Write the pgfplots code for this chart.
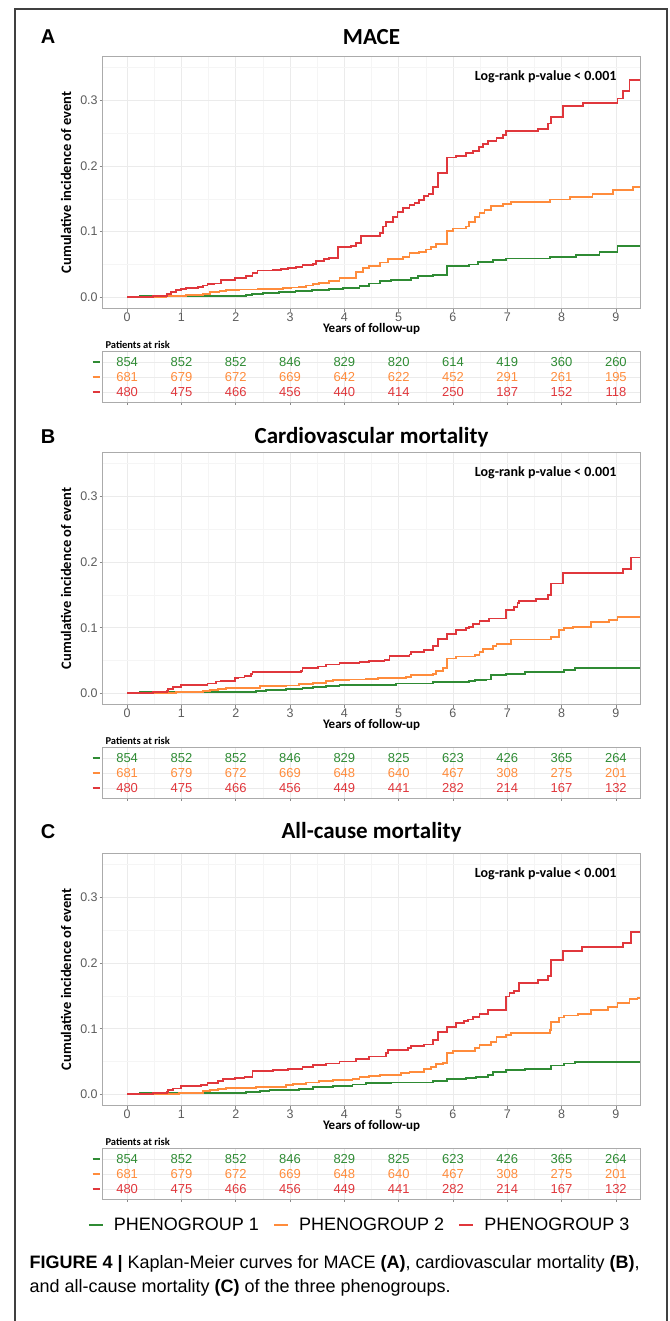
\documentclass[border=0pt]{standalone}
\usepackage{fontspec}
\setmainfont{Liberation Sans}
\newfontfamily\calb{Carlito}
\usepackage{pgfplots}
\pgfplotsset{compat=1.18}

\definecolor{pgA}{HTML}{2F8B34}
\definecolor{pgB}{HTML}{FF8C3C}
\definecolor{pgC}{HTML}{E0373C}
\definecolor{gridmaj}{HTML}{EBEBEB}
\definecolor{gridmin}{HTML}{F5F5F5}
\definecolor{panelgray}{HTML}{ABABAB}
\definecolor{ticklab}{HTML}{5C5C5C}

\newcommand{\dash}[1]{\textcolor{#1}{\rule{7pt}{2.6pt}}}

\pgfplotsset{
  base/.style={
    scale only axis, width=537.6pt,
    xmin=-0.45, xmax=9.45,
    xtick={0,...,9}, minor xtick={0.5,1.5,...,8.5},
    grid=both,
    major grid style={draw=gridmaj, line width=0.7pt},
    minor grid style={draw=gridmin, line width=0.5pt},
    axis line style={draw=panelgray, line width=0.9pt},
    tick align=outside, tick pos=left,
    major tick length=3pt, minor tick length=0pt,
    tick style={draw=panelgray!80!black, line width=0.6pt},
    /pgf/number format/assume math mode=true,
    ticklabel style={font=\fontsize{12.5}{13}\selectfont, text=ticklab},
  },
  km/.style={base, height=252.6pt,
    ymin=-0.0175, ymax=0.3675,
    ytick={0,0.1,0.2,0.3}, minor ytick={0.05,0.15,0.25,0.35},
    yticklabel style={/pgf/number format/fixed, /pgf/number format/fixed zerofill, /pgf/number format/precision=1, xshift=1.5pt},
    xticklabel style={yshift=2.5pt},
    xlabel={Years of follow-up},
    ylabel={Cumulative incidence of event},
    every axis x label/.style={at={(axis description cs:0.5,0)}, yshift=-20pt, anchor=center, font=\calb\bfseries\fontsize{13}{14}\selectfont},
    every axis y label/.style={at={(axis description cs:0,0.5)}, xshift=-36.7pt, rotate=90, anchor=center, font=\calb\bfseries\fontsize{14.5}{15}\selectfont},
    every axis plot/.append style={const plot, line width=1.8pt, mark=none},
  },
  risk/.style={base, height=51pt,
    ymin=0.33, ymax=3.73, ytick={1,2,3},
    xticklabels={},
    yticklabels={\dash{pgC},\dash{pgB},\dash{pgA}},
    ytick style={draw=none},
    yticklabel style={inner sep=0pt},
  },
  riskrow/.style={draw=none, mark=none, nodes near coords, point meta=explicit symbolic,
    nodes near coords style={anchor=center, font=\fontsize{13}{13}\selectfont, text=#1}},
}

\begin{document}
\begin{tikzpicture}
\useasboundingbox (0,0) rectangle (669pt,1321pt);
\draw[line width=1.3pt, color=black!75] (15pt,-2pt) -- (15pt,1312pt) -- (667pt,1312pt) -- (667pt,-2pt);

% ---------------- A: MACE ----------------
\node[font=\bfseries\fontsize{20}{20}\selectfont] at (48pt,1284pt) {A};
\node[font=\calb\bfseries\fontsize{23}{23}\selectfont] at (371.5pt,1284pt) {MACE};
\begin{axis}[km, at={(102.7pt,1012.2pt)}, anchor=south west]
\addplot[pgA] coordinates {(0,0) (0.23,0.002) (2.19,0.003) (2.30,0.0046) (2.50,0.006) (2.80,0.0076) (3.10,0.009) (3.40,0.011) (3.72,0.013) (3.97,0.0147) (4.28,0.0168) (4.46,0.021) (4.65,0.025) (4.86,0.026) (5.23,0.030) (5.35,0.0325) (5.63,0.034) (5.89,0.048) (6.30,0.050) (6.46,0.054) (6.73,0.057) (6.98,0.059) (7.78,0.062) (8.27,0.0645) (8.70,0.0696) (9.03,0.078) (9.45,0.078)};
\addplot[pgB] coordinates {(0,0) (0.72,0.002) (1.09,0.003) (1.39,0.005) (1.52,0.008) (1.70,0.010) (1.82,0.011) (2.07,0.012) (2.40,0.0127) (2.87,0.014) (3.02,0.015) (3.17,0.016) (3.29,0.018) (3.42,0.020) (3.54,0.022) (3.72,0.025) (3.91,0.029) (4.12,0.030) (4.21,0.039) (4.34,0.0445) (4.46,0.048) (4.65,0.053) (4.80,0.058) (5.08,0.062) (5.20,0.067) (5.38,0.0696) (5.51,0.073) (5.60,0.077) (5.69,0.081) (5.89,0.1016) (6.00,0.105) (6.24,0.108) (6.30,0.115) (6.40,0.123) (6.49,0.129) (6.58,0.133) (6.70,0.139) (6.92,0.142) (7.07,0.145) (7.78,0.149) (8.15,0.153) (8.57,0.1575) (8.94,0.163) (9.31,0.168) (9.45,0.168)};
\addplot[pgC] coordinates {(0,0) (0.47,0.0015) (0.74,0.005) (0.81,0.0086) (0.90,0.011) (0.99,0.013) (1.09,0.0147) (1.30,0.016) (1.39,0.018) (1.48,0.0198) (1.61,0.021) (1.73,0.0259) (1.99,0.029) (2.07,0.030) (2.19,0.0325) (2.31,0.0366) (2.40,0.041) (2.68,0.0417) (2.83,0.0427) (2.96,0.0447) (3.11,0.0457) (3.23,0.0493) (3.42,0.0508) (3.48,0.0559) (3.63,0.0579) (3.72,0.0595) (3.88,0.0762) (4.12,0.0783) (4.21,0.0823) (4.31,0.0935) (4.65,0.0986) (4.71,0.108) (4.77,0.115) (4.89,0.123) (4.98,0.1306) (5.08,0.1357) (5.20,0.1407) (5.29,0.1443) (5.38,0.148) (5.47,0.154) (5.55,0.158) (5.63,0.168) (5.72,0.190) (5.89,0.213) (6.06,0.2154) (6.24,0.2195) (6.37,0.223) (6.48,0.2287) (6.55,0.2337) (6.64,0.238) (6.80,0.2424) (6.92,0.2475) (6.98,0.254) (7.56,0.257) (7.75,0.265) (7.81,0.275) (8.02,0.2917) (8.39,0.2967) (9.03,0.303) (9.13,0.315) (9.25,0.331) (9.45,0.331)};
\end{axis}
\node[anchor=east, font=\calb\bfseries\fontsize{14}{14}\selectfont] at (620pt,1244pt) {Log-rank p-value < 0.001};
\node[anchor=west, font=\calb\bfseries\fontsize{10.5}{11}\selectfont] at (102pt,976pt) {Patients at risk};
\begin{axis}[risk, at={(102.7pt,919pt)}, anchor=south west]
\addplot[riskrow=pgA] coordinates {(0,3)[854] (1,3)[852] (2,3)[852] (3,3)[846] (4,3)[829] (5,3)[820] (6,3)[614] (7,3)[419] (8,3)[360] (9,3)[260]};
\addplot[riskrow=pgB] coordinates {(0,2)[681] (1,2)[679] (2,2)[672] (3,2)[669] (4,2)[642] (5,2)[622] (6,2)[452] (7,2)[291] (8,2)[261] (9,2)[195]};
\addplot[riskrow=pgC] coordinates {(0,1)[480] (1,1)[475] (2,1)[466] (3,1)[456] (4,1)[440] (5,1)[414] (6,1)[250] (7,1)[187] (8,1)[152] (9,1)[118]};
\end{axis}

% ---------------- B: cardiovascular mortality ----------------
\node[font=\bfseries\fontsize{20}{20}\selectfont] at (48pt,884pt) {B};
\node[font=\calb\bfseries\fontsize{23}{23}\selectfont] at (371.5pt,884pt) {Cardiovascular mortality};
\begin{axis}[km, at={(102.7pt,616.2pt)}, anchor=south west]
\addplot[pgA] coordinates {(0,0) (0.23,0.002) (2.37,0.0035) (2.55,0.005) (2.93,0.006) (3.23,0.0086) (3.42,0.010) (3.66,0.0116) (3.91,0.0125) (4.15,0.0131) (4.95,0.015) (5.63,0.0168) (6.30,0.019) (6.40,0.020) (6.61,0.021) (6.70,0.028) (6.98,0.030) (7.32,0.032) (8.05,0.0355) (8.24,0.039) (9.45,0.039)};
\addplot[pgB] coordinates {(0,0) (0.47,0.001) (0.90,0.002) (1.39,0.0035) (1.52,0.005) (1.67,0.007) (1.82,0.008) (2.44,0.0106) (2.93,0.012) (3.17,0.014) (3.42,0.016) (3.66,0.0187) (3.79,0.0197) (4.09,0.021) (4.40,0.0217) (4.62,0.023) (5.14,0.025) (5.23,0.028) (5.63,0.030) (5.69,0.0345) (5.81,0.038) (5.89,0.053) (6.06,0.056) (6.40,0.058) (6.49,0.063) (6.55,0.067) (6.73,0.072) (6.80,0.075) (7.07,0.082) (7.81,0.086) (7.96,0.0964) (8.05,0.099) (8.21,0.1015) (8.54,0.109) (8.88,0.1117) (9.03,0.1168) (9.45,0.1168)};
\addplot[pgC] coordinates {(0,0) (0.47,0.0015) (0.74,0.0035) (0.75,0.0066) (0.84,0.010) (0.99,0.0126) (1.48,0.015) (1.64,0.018) (1.73,0.019) (1.98,0.023) (2.04,0.024) (2.16,0.026) (2.28,0.029) (2.31,0.032) (3.20,0.034) (3.23,0.038) (3.39,0.039) (3.51,0.041) (3.66,0.044) (3.91,0.0465) (4.28,0.0475) (4.46,0.049) (4.74,0.051) (4.83,0.057) (5.20,0.059) (5.23,0.063) (5.47,0.066) (5.63,0.072) (5.72,0.083) (5.89,0.090) (6.06,0.096) (6.24,0.099) (6.30,0.1015) (6.37,0.1056) (6.49,0.110) (6.67,0.114) (6.98,0.127) (7.13,0.132) (7.19,0.138) (7.22,0.141) (7.53,0.144) (7.75,0.150) (7.81,0.1675) (8.03,0.183) (9.13,0.189) (9.28,0.207) (9.45,0.207)};
\end{axis}
\node[anchor=east, font=\calb\bfseries\fontsize{14}{14}\selectfont] at (620pt,848pt) {Log-rank p-value < 0.001};
\node[anchor=west, font=\calb\bfseries\fontsize{10.5}{11}\selectfont] at (102pt,580pt) {Patients at risk};
\begin{axis}[risk, at={(102.7pt,523pt)}, anchor=south west]
\addplot[riskrow=pgA] coordinates {(0,3)[854] (1,3)[852] (2,3)[852] (3,3)[846] (4,3)[829] (5,3)[825] (6,3)[623] (7,3)[426] (8,3)[365] (9,3)[264]};
\addplot[riskrow=pgB] coordinates {(0,2)[681] (1,2)[679] (2,2)[672] (3,2)[669] (4,2)[648] (5,2)[640] (6,2)[467] (7,2)[308] (8,2)[275] (9,2)[201]};
\addplot[riskrow=pgC] coordinates {(0,1)[480] (1,1)[475] (2,1)[466] (3,1)[456] (4,1)[449] (5,1)[441] (6,1)[282] (7,1)[214] (8,1)[167] (9,1)[132]};
\end{axis}

% ---------------- C: all-cause mortality ----------------
\node[font=\bfseries\fontsize{20}{20}\selectfont] at (48pt,489pt) {C};
\node[font=\calb\bfseries\fontsize{23}{23}\selectfont] at (371.5pt,489pt) {All-cause mortality};
\begin{axis}[km, at={(102.7pt,215.2pt)}, anchor=south west,
  legend style={at={(rel axis cs:0.476,-0.472)}, anchor=center, draw=none, fill=none,
    legend columns=3, font=\fontsize{18}{19}\selectfont, inner sep=0pt,
    nodes={inner sep=0pt},
    /tikz/every odd column/.style={column sep=10pt},
    /tikz/every even column/.style={column sep=14pt}},
  legend image code/.code={\draw[#1, line width=2.2pt] (0pt,0pt) -- (14pt,0pt);}]
\addplot[pgA] coordinates {(0,0) (0.23,0.0015) (2.19,0.003) (2.44,0.005) (2.62,0.0066) (3.17,0.0087) (3.42,0.0107) (3.79,0.0128) (4.15,0.015) (4.40,0.0168) (4.86,0.018) (5.63,0.0198) (5.89,0.023) (6.24,0.025) (6.43,0.027) (6.64,0.030) (6.73,0.0345) (6.98,0.037) (7.32,0.039) (7.81,0.044) (8.05,0.047) (8.24,0.0497) (9.45,0.0497)};
\addlegendentry{PHENOGROUP 1}
\addplot[pgB] coordinates {(0,0) (0.47,0.001) (0.96,0.0026) (1.39,0.0046) (1.52,0.0066) (1.67,0.0087) (1.82,0.0095) (2.37,0.0117) (2.93,0.0138) (3.05,0.0158) (3.29,0.018) (3.54,0.020) (3.79,0.022) (4.15,0.0235) (4.28,0.027) (4.45,0.028) (4.65,0.030) (5.05,0.032) (5.20,0.0345) (5.47,0.038) (5.60,0.042) (5.69,0.046) (5.81,0.048) (5.89,0.0635) (6.00,0.0665) (6.40,0.070) (6.49,0.075) (6.70,0.080) (6.80,0.0868) (6.98,0.090) (7.07,0.093) (7.78,0.098) (7.81,0.1107) (7.96,0.117) (8.05,0.120) (8.30,0.123) (8.54,0.128) (8.85,0.1325) (9.03,0.1386) (9.25,0.1447) (9.40,0.147) (9.45,0.147)};
\addlegendentry{PHENOGROUP 2}
\addplot[pgC] coordinates {(0,0) (0.47,0.0015) (0.74,0.0035) (0.75,0.0066) (0.84,0.009) (0.99,0.0128) (1.36,0.0138) (1.48,0.0168) (1.67,0.020) (1.76,0.023) (1.98,0.0245) (2.16,0.027) (2.31,0.0357) (2.68,0.037) (2.96,0.039) (3.23,0.042) (3.42,0.045) (3.66,0.047) (3.91,0.050) (4.21,0.0536) (4.46,0.0577) (4.77,0.0635) (4.80,0.0675) (5.17,0.070) (5.23,0.0736) (5.47,0.076) (5.63,0.083) (5.72,0.0954) (5.89,0.103) (6.06,0.109) (6.21,0.112) (6.27,0.114) (6.37,0.118) (6.49,0.123) (6.64,0.129) (6.98,0.149) (7.04,0.154) (7.13,0.158) (7.22,0.170) (7.56,0.174) (7.75,0.180) (7.81,0.2046) (8.03,0.219) (8.38,0.225) (9.13,0.231) (9.28,0.248) (9.45,0.248)};
\addlegendentry{PHENOGROUP 3}
\end{axis}
\node[anchor=east, font=\calb\bfseries\fontsize{14}{14}\selectfont] at (620pt,447pt) {Log-rank p-value < 0.001};
\node[anchor=west, font=\calb\bfseries\fontsize{10.5}{11}\selectfont] at (102pt,179pt) {Patients at risk};
\begin{axis}[risk, at={(102.7pt,122pt)}, anchor=south west]
\addplot[riskrow=pgA] coordinates {(0,3)[854] (1,3)[852] (2,3)[852] (3,3)[846] (4,3)[829] (5,3)[825] (6,3)[623] (7,3)[426] (8,3)[365] (9,3)[264]};
\addplot[riskrow=pgB] coordinates {(0,2)[681] (1,2)[679] (2,2)[672] (3,2)[669] (4,2)[648] (5,2)[640] (6,2)[467] (7,2)[308] (8,2)[275] (9,2)[201]};
\addplot[riskrow=pgC] coordinates {(0,1)[480] (1,1)[475] (2,1)[466] (3,1)[456] (4,1)[449] (5,1)[441] (6,1)[282] (7,1)[214] (8,1)[167] (9,1)[132]};
\end{axis}

% ---------------- caption ----------------
\node[anchor=west, font=\fontsize{18}{20}\selectfont] at (26pt,57pt) {\textbf{FIGURE 4 |} Kaplan-Meier curves for MACE \textbf{(A)}, cardiovascular mortality \textbf{(B)},};
\node[anchor=west, font=\fontsize{18}{20}\selectfont] at (26pt,33pt) {and all-cause mortality \textbf{(C)} of the three phenogroups.};
\end{tikzpicture}
\end{document}
